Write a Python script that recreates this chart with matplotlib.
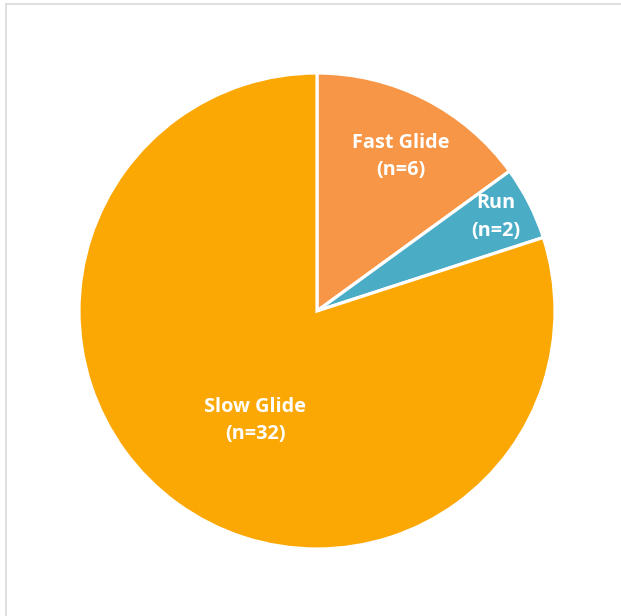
import matplotlib.pyplot as plt
from matplotlib.lines import Line2D

# data
categories = ["Fast Glide", "Run", "Slow Glide"]
counts = [6, 2, 32]

# look
colors = ["#F79646", "#4BACC6", "#FCA804"]
label_xy = [(0.353, 0.651), (0.752, 0.395), (-0.26, -0.462)]

fig = plt.figure(figsize=(6.21, 6.16), dpi=100)
W, H = 621, 616
ax = fig.add_axes([79 / W, (H - 549) / H, 476 / W, 476 / H])

wedges, _ = ax.pie(counts, colors=colors, startangle=90, counterclock=False,
                   radius=1.0, wedgeprops=dict(edgecolor="white", linewidth=2.3))

for name, n, (x, y) in zip(categories, counts, label_xy):
    ax.text(x, y, f"{name}\n(n={n})",
            ha="center", va="center", color="white", fontsize=14.3,
            fontweight="bold", family=["Open Sans", "DejaVu Sans"], linespacing=1.47)

ax.set_xlim(-1, 1)
ax.set_ylim(-1, 1)
ax.set_aspect("equal")
ax.axis("off")

# thin frame lines at top and left, like the chart area border
fig.add_artist(Line2D([6 / W, 1], [1 - 3.5 / H, 1 - 3.5 / H], color="#D9D9D9", lw=1.2))
fig.add_artist(Line2D([6 / W, 6 / W], [0, 1 - 3.5 / H], color="#D9D9D9", lw=1.2))

fig.savefig("out.png", dpi=100)
